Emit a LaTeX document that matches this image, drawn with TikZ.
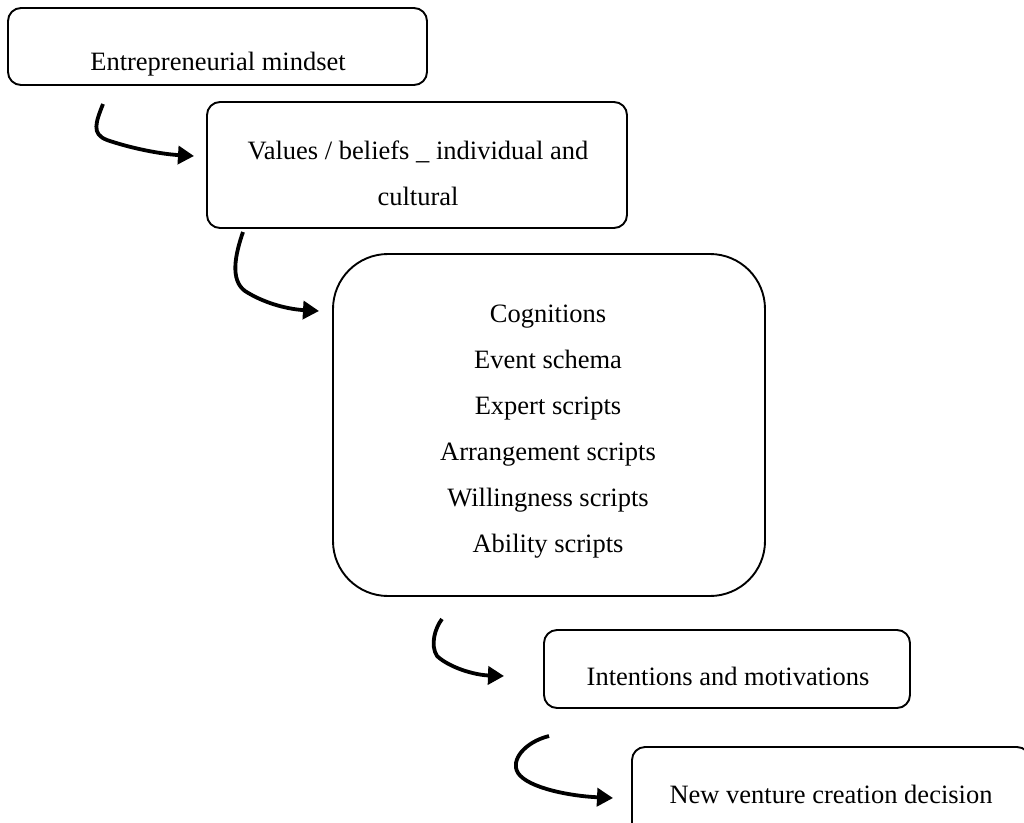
\documentclass[tikz,border=0pt]{standalone}
\usepackage{fontspec}
\setmainfont{Liberation Serif}
\usetikzlibrary{arrows.meta}
\begin{document}
\begin{tikzpicture}[x=1pt,y=-1pt,
  box/.style={draw=black, line width=1.9pt, rectangle, rounded corners=13pt, inner sep=0pt},
  bigbox/.style={box, rounded corners=55pt},
  lbl/.style={anchor=base, inner sep=0pt, font=\fontsize{26.5}{46}\selectfont},
  flow/.style={line width=3.8pt, -{Triangle[length=16pt,width=18pt]}}]
\useasboundingbox (0,0) rectangle (1024,822);
% boxes
\node[box, minimum width=419pt, minimum height=77pt] (b1) at (217.5,46.5) {};
\node[box, minimum width=420pt, minimum height=126pt] (b2) at (417,165) {};
\node[bigbox, minimum width=432pt, minimum height=342pt] (b3) at (549,425) {};
\node[box, minimum width=366pt, minimum height=78pt] (b4) at (727,669) {};
\node[box, minimum width=398pt, minimum height=90pt] (b5) at (831,792) {};
% texts
\node[lbl] (t1) at (218,70) {Entrepreneurial mindset};
\node[lbl] (t2a) at (418,159) {Values / beliefs \_ individual and};
\node[lbl] (t2b) at (418,205) {cultural};
\node[lbl] (t3a) at (548,322) {Cognitions};
\node[lbl] (t3b) at (548,368) {Event schema};
\node[lbl] (t3c) at (548,414) {Expert scripts};
\node[lbl] (t3d) at (548,460) {Arrangement scripts};
\node[lbl] (t3e) at (548,506) {Willingness scripts};
\node[lbl] (t3f) at (548,552) {Ability scripts};
\node[lbl] (t4) at (728,685) {Intentions and motivations};
\node[lbl] (t5) at (831,803) {New venture creation decision};
% arrow end points
\coordinate (a1s) at (103,104);
\coordinate (a1e) at (194,156);
\coordinate (a2s) at (243,232);
\coordinate (a2e) at (319,311);
\coordinate (a3s) at (442,619);
\coordinate (a3e) at (504,676);
\coordinate (a4s) at (549,736);
\coordinate (a4e) at (613,798);
% arrows
\draw[flow] (a1s) .. controls (96,122) and (91,134) .. (107,140) .. controls (130,148) and (160,154) .. (a1e);
\draw[flow] (a2s) .. controls (235,255) and (230,280) .. (245,291) .. controls (262,302) and (285,309) .. (a2e);
\draw[flow] (a3s) .. controls (435,628) and (430,645) .. (437,656) .. controls (450,668) and (475,675) .. (a3e);
\draw[flow] (a4s) .. controls (525,742) and (510,760) .. (518,773) .. controls (528,788) and (570,796) .. (a4e);
\end{tikzpicture}
\end{document}
